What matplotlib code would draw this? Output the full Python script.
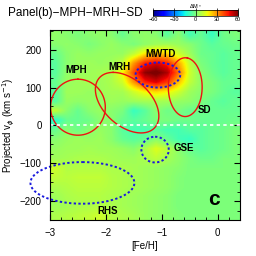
import matplotlib
matplotlib.use("Agg")
import matplotlib.pyplot as plt
import numpy as np

plt.rcParams['font.family'] = ['Liberation Sans', 'DejaVu Sans']

# grid of Delta M* in bins of [Fe/H] (0.2 dex) and v_phi (25 km/s)
feh_lim = (-3.0, 0.4)
vphi_lim = (-250, 250)

# rows from top (v_phi = 237.5) to bottom (v_phi = -237.5)
# columns [Fe/H] = -2.9, -2.7, ..., 0.3
dm = np.array([
    [3, 2, 0, 2, 3, 2, -3, 2, 3, 2, -5, 2, -8, -3, -10, -2, 0],
    [2, 3, 2, 0, 2, 4, 2, 0, 3, 5, 6, 4, 2, -2, -5, -3, -2],
    [-3, 2, 4, 3, 4, 4, 4, 10, 20, 25, 22, 12, 5, -2, -3, -5, -3],
    [-5, 2, 4, 5, 4, 5, 10, 30, 45, 50, 45, 28, 10, 0, -3, -5, -3],
    [-5, 3, 5, 5, 6, 7, 18, 40, 58, 62, 55, 35, 12, 2, -2, -5, -3],
    [-3, 4, 5, 6, 5, 7, 12, 30, 45, 50, 42, 25, 10, 3, 0, -3, -3],
    [-5, 5, 5, 4, 5, 6, 6, 12, 18, 22, 18, 12, 5, 2, 0, -3, -5],
    [-5, 4, 3, 4, 3, 5, 4, 5, 6, 6, 6, 4, 3, 0, -3, -5, -3],
    [10, 2, -3, 2, 4, 2, 0, -10, -5, 2, -2, 0, -3, -2, -3, -3, -3],
    [-12, -3, -3, -2, 2, 2, -3, -5, -3, 0, 0, -2, -2, -3, -3, -3, -2],
    [-3, 2, -2, 2, 4, 2, -5, -8, -8, -5, -8, -8, -5, -5, -3, -2, 0],
    [2, 4, 5, 4, 5, 2, -3, -5, -3, 2, -3, -8, -10, -5, -3, -2, 0],
    [4, 5, 5, 6, 5, 5, 4, 2, 7, 14, 9, 2, -3, -5, -3, -2, 0],
    [5, 6, 7, 7, 7, 6, 5, 5, 7, 10, 6, 3, 0, -2, -2, 0, 0],
    [12, 8, 8, 8, 8, 7, 7, 6, 5, 4, 3, 2, 0, 0, 0, 0, 0],
    [10, 9, 10, 10, 10, 8, 7, 6, 5, 4, 3, 1, 0, 0, 0, 0, 0],
    [7, 8, 9, 9, 9, 8, 7, 6, 5, 4, 3, 1, 0, 0, 0, 0, 0],
    [5, 7, 8, 8, 8, 7, 6, 5, 4, 3, 2, 0, 0, 0, 0, 0, 0],
    [5, 6, 7, 7, 8, 7, 6, 5, 4, 3, 2, 0, 0, 0, 0, 0, 0],
    [7, 8, 9, 10, 12, 8, 7, 6, 4, 3, 2, 1, 0, 0, 0, 0, 0],
])

# ellipses: center x, center y, x offsets (A, B), y offsets (C, D)
# curve: x = cx + A cos t + B sin t ; y = cy + C cos t + D sin t
red_ell = {
    'MPH': (-2.5, 48, 0.0, 0.49, 74, 0),
    'MRH': (-1.62, 60, -0.25, 0.51, 80, 0),
    'SD': (-0.58, 101, 0.04, 0.3, 77, -10),
}
blue_ell = {
    'MWTD': (-1.07, 133, 0.0, 0.40, 33, 0),
    'GSE': (-1.12, -64, 0.0, 0.245, 34, 0),
    'RHS': (-2.42, -152, 0.0, 0.93, 55, 0),
}

labels = ['MPH', 'MRH', 'MWTD', 'SD', 'GSE', 'RHS']
lab_x = [-2.53, -1.76, -1.02, -0.23, -0.61, -1.96]
lab_y = [146, 154, 189, 40, -61, -225]

fig = plt.figure(figsize=(2.56, 2.56), dpi=100)
ax = fig.add_axes([50/256, 36/256, 190/256, 190/256])

im = ax.imshow(dm, cmap='jet', vmin=-60, vmax=60, aspect='auto',
               extent=[feh_lim[0], feh_lim[1], vphi_lim[0], vphi_lim[1]],
               interpolation='bilinear', origin='upper')

t = np.linspace(0, 2*np.pi, 300)
for name, (cx, cy, a, b, c, d) in red_ell.items():
    ax.plot(cx + a*np.cos(t) + b*np.sin(t), cy + c*np.cos(t) + d*np.sin(t),
            color='#ee1111', lw=1.0)
for name, (cx, cy, a, b, c, d) in blue_ell.items():
    ax.plot(cx + a*np.cos(t) + b*np.sin(t), cy + c*np.cos(t) + d*np.sin(t),
            color='#1a1add', lw=1.4, ls=(0, (1.2, 1.2)), clip_on=False)

ax.axhline(0, color='white', lw=1.2, ls=(0, (2, 2)))

for s, x, y in zip(labels, lab_x, lab_y):
    ax.text(x, y, s, fontsize=7, fontweight='bold', ha='center', va='center')
ax.text(-0.07, -195, 'c', fontsize=15, fontweight='bold', ha='center', va='center')

ax.set_xlim(-3.0, 0.4)
ax.set_ylim(-250, 252)
ax.set_xticks([-3, -2, -1, 0])
ax.set_xticklabels(['\u22123', '\u22122', '\u22121', '0'])
ax.set_xticks(np.arange(-3, 0.41, 0.2), minor=True)
ax.set_yticks([-200, -100, 0, 100, 200])
ax.set_yticklabels(['\u2212200', '\u2212100', '0', '100', '200'])
ax.set_yticks(np.arange(-250, 251, 25), minor=True)
ax.tick_params(which='both', direction='in', top=True, right=True, labelsize=7, pad=6)
ax.tick_params(which='major', length=4, width=0.8)
ax.tick_params(which='minor', length=2, width=0.6)
ax.set_xlabel('[Fe/H]', fontsize=7, labelpad=2)
ax.set_ylabel('Projected v$_\\phi$ (km s$^{-1}$)', fontsize=7, labelpad=2)

fig.text(8/256, 1 - 13/256, 'Panel(b)\u2212MPH\u2212MRH\u2212SD', fontsize=8.5, va='center', ha='left')

cax = fig.add_axes([153/256, 1 - 16/256, 85/256, 6/256])
cb = fig.colorbar(im, cax=cax, orientation='horizontal')
cb.set_ticks([-60, -30, 0, 30, 60])
cb.ax.set_xticklabels(['\u221260', '\u221230', '0', '30', '60'])
cb.ax.tick_params(labelsize=4, length=6, width=0.5, direction='in', pad=1)
cb.outline.set_linewidth(0.5)
cb.ax.set_title('\u0394M$_*$', fontsize=4, pad=1)

fig.savefig('out.png', dpi=100)
